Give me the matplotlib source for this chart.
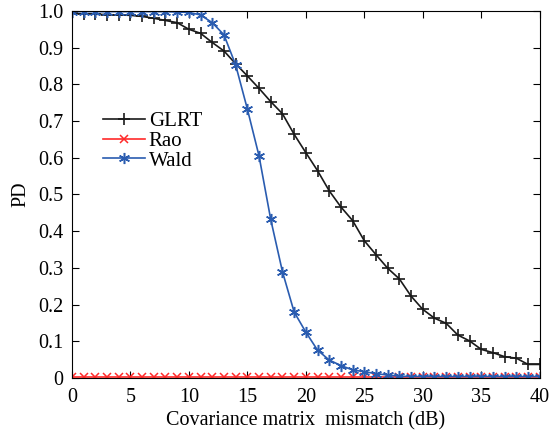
import matplotlib
matplotlib.use('Agg')
import matplotlib.pyplot as plt
import numpy as np

plt.rcParams['font.family'] = ['Liberation Serif', 'DejaVu Serif']
plt.rcParams['mathtext.fontset'] = 'stix'

mismatch_db = list(range(0, 41))

glrt = [0.993, 0.992, 0.991, 0.990, 0.989, 0.988, 0.985, 0.980, 0.974, 0.968,
        0.950, 0.939, 0.914, 0.891, 0.856, 0.823, 0.789, 0.753, 0.720, 0.664,
        0.614, 0.565, 0.510, 0.466, 0.429, 0.374, 0.336, 0.299, 0.270, 0.223,
        0.187, 0.163, 0.149, 0.117, 0.101, 0.078, 0.069, 0.058, 0.054, 0.037,
        0.037]

rao = [0.002] * 41

wald = [0.998, 0.998, 0.998, 0.998, 0.998, 0.998, 0.998, 0.998, 0.998, 0.997,
        0.996, 0.989, 0.968, 0.935, 0.853, 0.733, 0.605, 0.432, 0.290, 0.180,
        0.125, 0.076, 0.049, 0.034, 0.022, 0.017, 0.012, 0.008, 0.005, 0.004,
        0.004, 0.004, 0.004, 0.004, 0.004, 0.004, 0.004, 0.004, 0.004, 0.004,
        0.004]

fig = plt.figure(figsize=(5.53, 4.37), dpi=100)
ax = fig.add_axes([0.130, 0.135, 0.846, 0.840])

asterisk = (6, 2, 0)
ax.plot(mismatch_db, glrt, color='#1a1a1a', marker='+', markersize=8,
        markeredgewidth=1.2, linewidth=1.2, label='GLRT')
ax.plot(mismatch_db, rao, color='#ff2a2a', marker='x', markersize=6,
        markeredgewidth=1.1, linewidth=1.2, label='Rao')
ax.plot(mismatch_db, wald, color='#2a5cb0', marker=asterisk, markersize=8,
        markeredgewidth=1.1, linewidth=1.2, label='Wald')

ax.set_xlim(0, 40)
ax.set_ylim(0, 1)
ax.set_xticks(np.arange(0, 41, 5))
ax.set_yticks(np.arange(0, 1.01, 0.1))
ax.set_yticklabels(['0', '0.1', '0.2', '0.3', '0.4', '0.5', '0.6', '0.7', '0.8', '0.9', '1.0'])
ax.tick_params(direction='in', top=True, right=True, labelsize=14.5, length=5,
               width=0.8, pad=6)
ax.tick_params(axis='x', pad=7)
for s in ax.spines.values():
    s.set_linewidth(0.8)

ax.set_xlabel('Covariance matrix  mismatch (dB)', fontsize=14.5, labelpad=3)
ax.set_ylabel('PD', fontsize=14.5, labelpad=6)

ax.legend(loc='upper left', bbox_to_anchor=(0.035, 0.765), frameon=False,
          fontsize=15, handlelength=2.0, handletextpad=0.2, labelspacing=0.0,
          borderpad=0.2)

fig.savefig('out.png', dpi=100)
